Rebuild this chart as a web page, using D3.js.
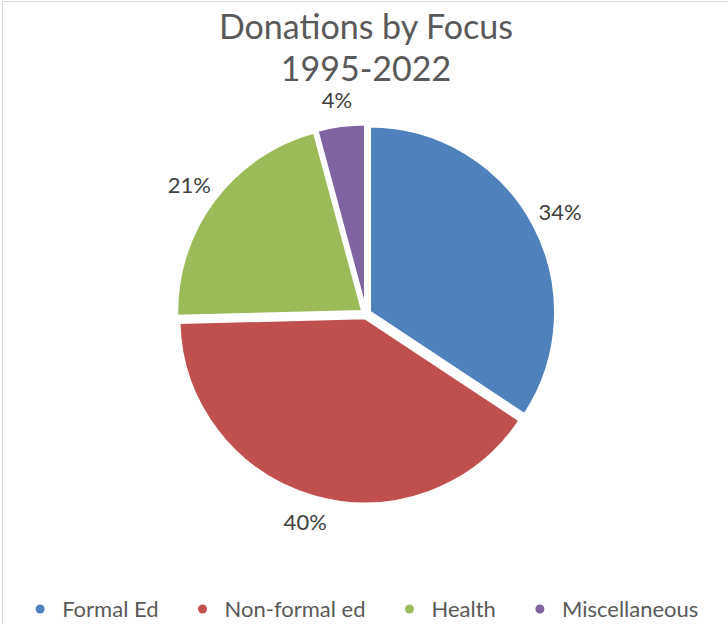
<!DOCTYPE html>
<html>
<head>
<meta charset="utf-8">
<script src="https://cdn.jsdelivr.net/npm/d3@7"></script>
<style>
  html, body { margin: 0; padding: 0; background: #ffffff; }
  svg { display: block; }
</style>
</head>
<body>
<svg id="chart" width="728" height="624"></svg>
<script>
const categories = ["Formal Ed", "Non-formal ed", "Health", "Miscellaneous"];
const values = [34.3, 40.3, 21.2, 4.2];
const labels = ["34%", "40%", "21%", "4%"];
const colors = ["#4F81BD", "#C0504D", "#9BBB59", "#8064A2"];
const titleLines = ["Donations by Focus", "1995-2022"];

const svg = d3.select("#chart");
const W = 728, H = 624;
const font = "Lato, 'Noto Sans', sans-serif";

// frame
svg.append("rect").attr("x", 2.5).attr("y", 1.5).attr("width", W + 10).attr("height", H + 10)
  .attr("fill", "#fff").attr("stroke", "#D9D9D9").attr("stroke-width", 1);

// title
svg.append("g").selectAll("text").data(titleLines).join("text")
  .attr("x", 366).attr("y", (d, i) => 39 + i * 42)
  .attr("text-anchor", "middle")
  .attr("font-family", font).attr("font-size", 34)
  .attr("fill", "#595959")
  .text(d => d);

const cx = 366, cy = 314, r = 186, explode = 4;
const pie = d3.pie().sort(null).value(d => d);
const arcs = pie(values);
const arc = d3.arc().innerRadius(0).outerRadius(r);
const labelArc = d3.arc().innerRadius(216).outerRadius(216);

const g = svg.append("g").attr("transform", `translate(${cx},${cy})`);
g.selectAll("path").data(arcs).join("path")
  .attr("d", arc)
  .attr("transform", d => {
    const a = (d.startAngle + d.endAngle) / 2;
    return `translate(${Math.sin(a) * explode},${-Math.cos(a) * explode})`;
  })
  .attr("fill", (d, i) => colors[i])
  .attr("stroke", "#ffffff").attr("stroke-width", 3).attr("stroke-linejoin", "round");

g.selectAll("text.lbl").data(arcs).join("text").attr("class", "lbl")
  .attr("transform", d => {
    const [lx, ly] = labelArc.centroid(d);
    return `translate(${lx * 1.02},${ly})`;
  })
  .attr("text-anchor", "middle").attr("dy", "0.36em")
  .attr("font-family", font).attr("font-size", 22).attr("fill", "#404040")
  .text((d, i) => labels[i]);

// legend
const leg = svg.append("g");
const items = leg.selectAll("g").data(categories).join("g");
items.append("circle").attr("r", 4.5).attr("cy", 0).attr("fill", (d, i) => colors[i]);
items.append("text").attr("x", 22).attr("y", 0).attr("dy", "0.36em")
  .attr("font-family", font).attr("font-size", 22).attr("fill", "#595959").text(d => d);
let x = 0;
items.each(function () {
  const t = d3.select(this).select("text").node();
  d3.select(this).attr("transform", `translate(${x},0)`);
  x += 22 + t.getComputedTextLength() + 44;
});
const total = x - 44 + 4.5;
leg.attr("transform", `translate(${367 - total / 2 + 4.5},609)`);
</script>
</body>
</html>
